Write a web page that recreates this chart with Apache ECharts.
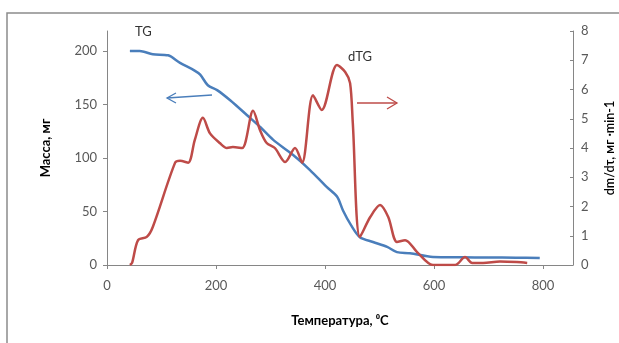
<!DOCTYPE html>
<html>
<head>
<meta charset="utf-8">
<script src="https://cdn.jsdelivr.net/npm/echarts@6/dist/echarts.min.js"></script>
<style>
  html, body { margin: 0; padding: 0; background: #fff; }
  #chart1 { width: 619px; height: 343px; }
</style>
</head>
<body>
<div id="chart1"></div>
<script>
// TG curve (left axis, mass in mg)
var tgTemp = [42, 60, 84, 112, 134, 160, 171, 185, 202, 226, 257, 281, 305, 341, 372, 403, 422, 433, 448, 464, 488, 514, 532, 556, 598, 650, 700, 750, 794];
var tgMass = [200, 200, 197, 196, 189, 182, 178, 168, 163.5, 154, 140, 129, 117, 103, 89, 73, 64, 51, 37, 26, 21.5, 17, 12, 11, 7.5, 7.2, 7, 6.8, 6.5];

// dTG curve (right axis)
var dtgTemp = [42, 46, 57, 73, 84, 125, 134, 149, 161, 176, 189, 207, 220, 231, 248, 268, 281, 293, 308, 327, 345, 358, 378, 394, 422, 437, 446, 451, 464, 483, 501, 516, 532, 547, 569, 598, 639, 657, 670, 690, 721, 752, 771];
var dtgVal = [0, 0.07, 0.85, 0.96, 1.3, 3.5, 3.56, 3.5, 4.27, 5.03, 4.5, 4.17, 4.0, 4.03, 4.0, 5.27, 4.6, 4.17, 4.0, 3.52, 4.0, 3.5, 5.8, 5.3, 6.84, 6.6, 6.22, 4.85, 0.96, 1.64, 2.05, 1.64, 0.79, 0.85, 0.44, 0, 0, 0.27, 0.07, 0.07, 0.12, 0.1, 0.07];

function pairs(xs, ys) {
  return xs.map(function (x, i) { return [x, ys[i]]; });
}

var myChart = echarts.init(document.getElementById('chart1'));
var font = 'Lato, "Open Sans", sans-serif';
var axisColor = '#868686';

option = {
  backgroundColor: '#fff',
  animation: false,
  grid: { left: 107, right: 46, top: 31, bottom: 78, outerBoundsMode: 'none' },
  xAxis: {
    type: 'value',
    min: 0, max: 855, interval: 200,
    name: 'Температура, ⁰C',
    nameLocation: 'middle',
    nameGap: 49,
    nameTextStyle: { fontFamily: font, fontSize: 13, fontWeight: 'bold', color: '#000' },
    axisLine: { show: true, lineStyle: { color: axisColor } },
    axisTick: { show: true, length: 4, lineStyle: { color: axisColor } },
    axisLabel: { showMaxLabel: false, margin: 14, fontFamily: font, fontSize: 13, color: '#595959' },
    splitLine: { show: false }
  },
  yAxis: [
    {
      type: 'value',
      min: 0, max: 218.75, interval: 50,
      name: 'Масса, мг',
      nameLocation: 'middle',
      nameGap: 55,
      nameTextStyle: { fontFamily: font, fontSize: 13, fontWeight: 'bold', color: '#000' },
      axisLine: { show: true, lineStyle: { color: axisColor } },
      axisTick: { show: true, length: 4, lineStyle: { color: axisColor } },
      axisLabel: { showMaxLabel: false, margin: 10, fontFamily: font, fontSize: 13, color: '#595959' },
      splitLine: { show: false }
    },
    {
      type: 'value',
      min: 0, max: 8, interval: 1,
      position: 'right',
      name: 'dm/dτ, мг ·min-1',
      nameLocation: 'middle',
      nameGap: 30,
      nameTextStyle: { fontFamily: font, fontSize: 12.5, fontWeight: 600, color: '#000' },
      axisLine: { show: true, lineStyle: { color: axisColor } },
      axisTick: { show: true, inside: true, length: 3, lineStyle: { color: axisColor } },
      axisLabel: { margin: 8, fontFamily: font, fontSize: 13, color: '#595959' },
      splitLine: { show: false }
    }
  ],
  series: [
    {
      name: 'TG',
      type: 'line',
      yAxisIndex: 0,
      smooth: 0.3,
      showSymbol: false,
      lineStyle: { color: '#4a7ebb', width: 2.5 },
      data: pairs(tgTemp, tgMass)
    },
    {
      name: 'dTG',
      type: 'line',
      yAxisIndex: 1,
      smooth: 0.3,
      showSymbol: false,
      lineStyle: { color: '#be4b48', width: 2.5 },
      data: pairs(dtgTemp, dtgVal)
    }
  ],
  graphic: [
    // outer frame
    { type: 'rect', shape: { x: 7, y: 13, width: 700, height: 400 }, style: { fill: 'none', stroke: '#8c8c8c', lineWidth: 1.5 }, silent: true },
    { type: 'text', left: 135, top: 25, style: { text: 'TG', fontFamily: font, fontSize: 13, fill: '#333' } },
    { type: 'text', left: 348, top: 50, style: { text: 'dTG', fontFamily: font, fontSize: 13, fill: '#333' } },
    // blue arrow pointing left
    { type: 'polyline', shape: { points: [[212, 95], [167, 98]] }, style: { stroke: '#4a7ebb', lineWidth: 1.3, fill: 'none' } },
    { type: 'polyline', shape: { points: [[176, 93], [167, 98], [176, 103]] }, style: { stroke: '#4a7ebb', lineWidth: 1.3, fill: 'none' } },
    // red arrow pointing right
    { type: 'polyline', shape: { points: [[357, 103], [397, 103]] }, style: { stroke: '#be4b48', lineWidth: 1.3, fill: 'none' } },
    { type: 'polyline', shape: { points: [[387, 97], [397, 103], [387, 109]] }, style: { stroke: '#be4b48', lineWidth: 1.3, fill: 'none' } }
  ]
};
myChart.setOption(option);
</script>
</body>
</html>
